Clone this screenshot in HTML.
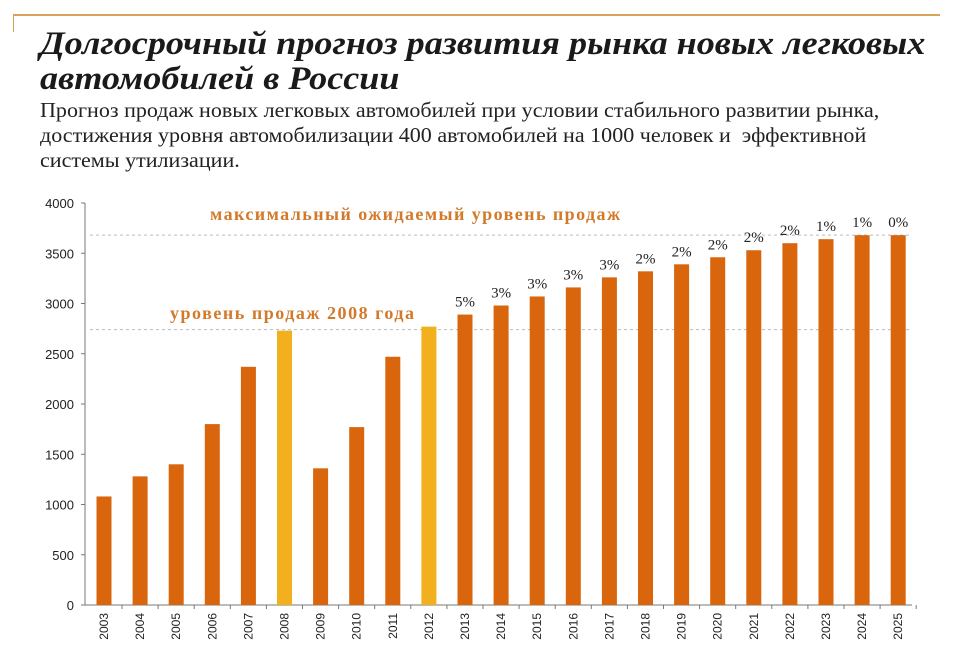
<!DOCTYPE html>
<html><head><meta charset="utf-8"><style>
body{margin:0;width:974px;height:666px;background:#fff;overflow:hidden;position:relative;font-family:"Liberation Sans",sans-serif}
.t{position:absolute;left:40px;top:27px;font:italic bold 33px "Liberation Serif",serif;line-height:35px;color:#1a1a1a;transform:scaleX(1.095);transform-origin:0 0;white-space:nowrap}
.s{position:absolute;left:40px;top:98px;font:21px "Liberation Serif",serif;line-height:25px;color:#222;transform:scaleX(1.05);transform-origin:0 0;white-space:nowrap}
</style></head><body>
<div style="position:absolute;left:13px;top:14px;width:927px;height:2px;background:#d9a25a"></div>
<div style="position:absolute;left:13px;top:14px;width:1px;height:18px;background:#d9a25a"></div>
<div class="t">Долгосрочный прогноз развития рынка новых легковых<br>автомобилей в России</div>
<div class="s">Прогноз продаж новых легковых автомобилей при условии стабильного развитии рынка,<br>достижения уровня автомобилизации 400 автомобилей на 1000 человек и &nbsp;эффективной<br>системы утилизации.</div>
<svg id="c" width="974" height="666" style="position:absolute;left:0;top:0"></svg>
<script>
const years=["2003","2004","2005","2006","2007","2008","2009","2010","2011","2012","2013","2014","2015","2016","2017","2018","2019","2020","2021","2022","2023","2024","2025"];
const sales=[1080,1280,1400,1800,2370,2730,1360,1770,2470,2770,2890,2980,3070,3160,3260,3320,3390,3460,3530,3600,3640,3680,3680];
const growth=["","","","","","","","","","","5%","3%","3%","3%","3%","2%","2%","2%","2%","2%","1%","1%","0%"];
const yTicks=[0,500,1000,1500,2000,2500,3000,3500,4000];
const highlight=["2008","2012"];
const maxLevel=3680, level2008=2740;
const NS="http://www.w3.org/2000/svg",svg=document.getElementById('c');
const y=v=>605-v*(402/4000);
const x=i=>104+i*36.1;
function mk(t,a,txt){const e=document.createElementNS(NS,t);for(const k in a)e.setAttribute(k,a[k]);if(txt!=null)e.textContent=txt;svg.appendChild(e);return e;}
let e=mk('line',{x1:85,x2:85,y1:203,y2:605,stroke:'#777'});

e=mk('line',{x1:85,x2:912,y1:605,y2:605,stroke:'#777'});

yTicks.forEach(v=>{
 const t=mk('text',{x:74,y:y(v)+5,'text-anchor':'end','font-size':13,fill:'#222'},v);
 
 mk('line',{x1:81,x2:85,y1:y(v),y2:y(v),stroke:'#777'});
});
[[maxLevel,'max-level-line'],[level2008,'level-2008-line']].forEach(([v,n])=>{
 const l=mk('line',{x1:90,x2:910,y1:y(v),y2:y(v),stroke:'#bbb','stroke-dasharray':'3,3'});
 
});
years.forEach((yr,i)=>{
 const b=mk('rect',{x:x(i)-7.5,y:y(sales[i]),width:15,height:605-y(sales[i]),fill:highlight.includes(yr)?'#f2b01e':'#d9650c'});
 
 mk('line',{x1:x(i)+18,x2:x(i)+18,y1:605,y2:609,stroke:'#777'});
 const t=mk('text',{x:0,y:0,'font-size':12,fill:'#222','text-anchor':'end',transform:`translate(${x(i)+4},613) rotate(-90)`},yr);
 
 if(growth[i]){const g=mk('text',{x:x(i),y:y(sales[i])-8,'text-anchor':'middle','font-size':15,'font-family':'Liberation Serif, serif',fill:'#222'},growth[i]);
 }
});
e=mk('text',{x:210,y:220,'font-size':18,'font-weight':'bold','font-family':'Liberation Serif, serif',fill:'#d27a2a',textLength:410},'максимальный ожидаемый уровень продаж');

e=mk('text',{x:170,y:319,'font-size':18,'font-weight':'bold','font-family':'Liberation Serif, serif',fill:'#d27a2a',textLength:244},'уровень продаж 2008 года');

</script>
</body></html>
